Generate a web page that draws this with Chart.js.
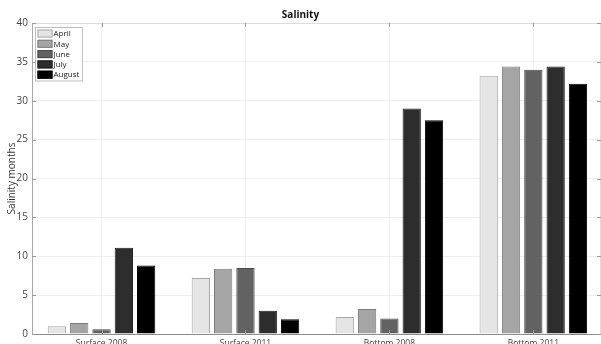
<!DOCTYPE html>
<html>
<head>
<meta charset="utf-8">
<script src="https://cdn.jsdelivr.net/npm/chart.js@4.4.1/dist/chart.umd.min.js"></script>
<style>
  html, body { margin: 0; padding: 0; background: #fff; overflow: hidden; }
  #wrap { width: 604px; height: 360px; }
</style>
</head>
<body>
<div id="wrap"><canvas id="chart-1" width="604" height="360"></canvas></div>
<script>
const categories = ["Surface 2008", "Surface 2011", "Bottom 2008", "Bottom 2011"];
const months = ["April", "May", "June", "July", "August"];
const april = [1.0, 7.2, 2.2, 33.2];
const may = [1.4, 8.4, 3.2, 34.4];
const june = [0.6, 8.5, 2.0, 34.0];
const july = [11.1, 3.0, 29.0, 34.4];
const august = [8.8, 1.9, 27.5, 32.2];
const yTicks = [0, 5, 10, 15, 20, 25, 30, 35, 40];

const series = [april, may, june, july, august];
const fills = ["#e5e5e5", "#a5a5a5", "#626262", "#2d2d2d", "#000000"];
const edges = ["#a8a8a8", "#7c7c7c", "#4a4a4a", "#1c1c1c", "#000000"];

const font = "'Open Sans', 'Noto Sans', sans-serif";

// legend drawn inside the axes, top-left
const boxLegend = {
  id: "boxLegend",
  afterDraw(chart) {
    const ctx = chart.ctx;
    const sets = chart.data.datasets;
    ctx.save();
    ctx.font = "8px " + font;
    let maxW = 0;
    sets.forEach((d) => (maxW = Math.max(maxW, ctx.measureText(d.label).width)));
    const x0 = chart.chartArea.left + 3.5;
    const y0 = chart.chartArea.top + 4.5;
    const w = 19 + maxW + 2;
    const h = sets.length * 10.3 + 2;
    ctx.fillStyle = "#fff";
    ctx.fillRect(x0, y0, w, h);
    ctx.strokeStyle = "#bdbdbd";
    ctx.lineWidth = 1;
    ctx.strokeRect(x0, y0, w, h);
    sets.forEach((d, i) => {
      const cy = y0 + 6 + i * 10.3;
      ctx.fillStyle = d.backgroundColor;
      ctx.fillRect(x0 + 2, cy - 4, 15, 8);
      ctx.strokeStyle = d.borderColor;
      ctx.strokeRect(x0 + 2.5, cy - 3.5, 14, 7);
      ctx.fillStyle = "#222";
      ctx.textBaseline = "middle";
      ctx.fillText(d.label, x0 + 18, cy + 0.5);
    });
    ctx.restore();
  },
};

// box outline and inward tick marks
const axesBox = {
  id: "axesBox",
  afterDatasetsDraw(chart) {
    const { ctx, chartArea: a, scales } = chart;
    ctx.save();
    ctx.lineWidth = 1;
    ctx.strokeStyle = "#dcdcdc";
    ctx.beginPath();
    ctx.moveTo(a.left, a.top + 0.5);
    ctx.lineTo(a.right, a.top + 0.5);
    ctx.moveTo(a.right - 0.5, a.top);
    ctx.lineTo(a.right - 0.5, a.bottom);
    ctx.stroke();
    ctx.strokeStyle = "#9a9a9a";
    ctx.beginPath();
    scales.y.ticks.forEach((t) => {
      const y = Math.round(scales.y.getPixelForValue(t.value)) + 0.5;
      ctx.moveTo(a.left, y);
      ctx.lineTo(a.left + 4, y);
      ctx.moveTo(a.right - 4, y);
      ctx.lineTo(a.right, y);
    });
    scales.x.ticks.forEach((t) => {
      const x = Math.round(scales.x.getPixelForValue(t.value)) + 0.5;
      ctx.moveTo(x, a.bottom);
      ctx.lineTo(x, a.bottom - 4);
      ctx.moveTo(x, a.top);
      ctx.lineTo(x, a.top + 4);
    });
    ctx.stroke();
    ctx.restore();
  },
};

const ctx_1 = document.getElementById("chart-1");
new Chart(ctx_1, {
  type: "bar",
  data: {
    datasets: months.map((m, i) => ({
      label: m,
      data: series[i].map((v, j) => ({ x: j + 1, y: v })),
      backgroundColor: fills[i],
      borderColor: edges[i],
      borderWidth: 1,
      categoryPercentage: 0.775,
      barPercentage: 0.82,
    })),
  },
  options: {
    responsive: false,
    animation: { duration: 0 },
    layout: { padding: { top: 0, left: 0, right: 3, bottom: 0 } },
    plugins: {
      legend: { display: false },
      tooltip: { enabled: false },
      title: {
        display: true,
        text: "Salinity",
        color: "#111",
        font: { family: font, size: 10, weight: "bold" },
        padding: { top: 9, bottom: 2 },
      },
    },
    scales: {
      x: {
        type: "linear",
        offset: false,
        min: 0.517,
        max: 4.47,
        afterBuildTicks: (scale) => {
          scale.ticks = categories.map((c, i) => ({ value: i + 1 }));
        },
        afterFit: (scale) => {
          scale.height = 26;
        },
        ticks: {
          color: "#444",
          padding: 4,
          maxRotation: 0,
          font: { family: font, size: 8.5 },
          callback: (v) => categories[v - 1],
        },
        grid: { color: "#efefef", drawTicks: false, offset: false },
        border: { color: "#8c8c8c" },
      },
      y: {
        min: 0,
        max: 40,
        afterBuildTicks: (scale) => {
          scale.ticks = yTicks.map((v) => ({ value: v }));
        },
        afterFit: (scale) => {
          scale.width = 32;
        },
        ticks: {
          color: "#444",
          padding: 4,
          font: { family: font, size: 10 },
        },
        grid: { color: "#efefef", drawTicks: false },
        border: { color: "#a8a8a8" },
        title: {
          display: true,
          text: "Salinity months",
          color: "#333",
          font: { family: font, size: 10 },
          padding: { top: 6, bottom: 0 },
        },
      },
    },
  },
  plugins: [boxLegend, axesBox],
});
</script>
</body>
</html>
